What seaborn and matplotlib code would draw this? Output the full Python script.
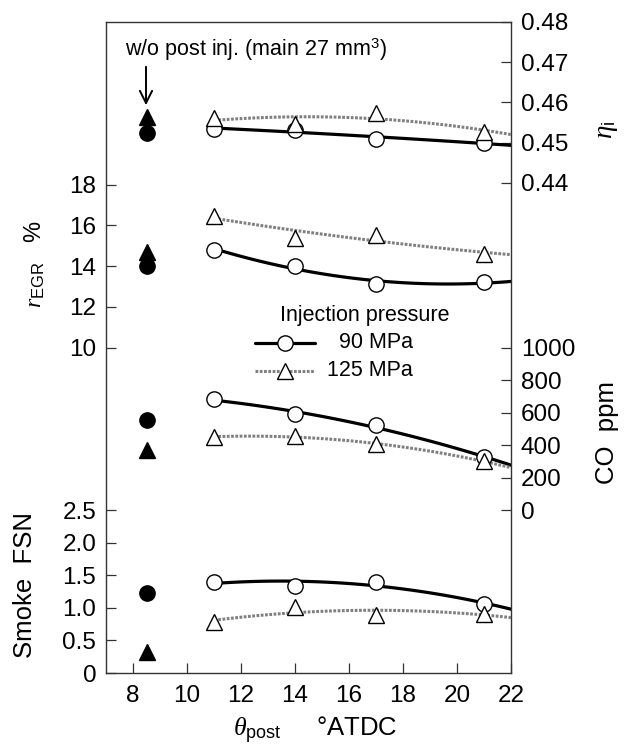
import numpy as np
import pandas as pd
import matplotlib
matplotlib.use("Agg")
import matplotlib.pyplot as plt
from matplotlib.lines import Line2D
import seaborn as sns

# post injection timing (deg ATDC)
theta = [11, 14, 17, 21]
theta_ref = 8.5  # without post injection

eta_90 = [0.4534, 0.4532, 0.4509, 0.4499]
eta_125 = [0.4561, 0.4547, 0.4574, 0.4527]
egr_90 = [14.80, 14.03, 13.14, 13.20]
egr_125 = [16.48, 15.40, 15.55, 14.60]
co_90 = [682, 590, 522, 326]
co_125 = [450, 455, 405, 301]
smoke_90 = [1.40, 1.34, 1.40, 1.06]
smoke_125 = [0.78, 1.01, 0.89, 0.91]

# w/o post injection (filled): circle, triangle
eta_ref = [0.4524, 0.4563]
egr_ref = [14.00, 14.69]
co_ref = [553, 368]
smoke_ref = [1.23, 0.32]

W, H = 630, 755


def px(x, y):
    return x / W, 1 - y / H


sns.set_theme(style="ticks")
plt.rcParams['font.family'] = ['Liberation Sans', 'DejaVu Sans']
plt.rcParams['mathtext.fontset'] = 'custom'
plt.rcParams['mathtext.rm'] = 'Liberation Sans'
plt.rcParams['mathtext.it'] = 'Liberation Serif:italic'
plt.rcParams['text.color'] = 'black'
plt.rcParams['xtick.labelcolor'] = 'black'
plt.rcParams['ytick.labelcolor'] = 'black'
TICK_FS = 17.5
FS = 15.5
LAB_FS = 18.5

fig = plt.figure(figsize=(6.3, 7.55), dpi=100)
x0, y0 = px(106, 673)
x1, y1 = px(511, 22)
ax = fig.add_axes([x0, y0, x1 - x0, y1 - y0])
ax_smoke = ax.twinx()
ax_eta = ax.twinx()
ax_co = ax.twinx()

limits = {ax: (-6, 26), ax_smoke: (0, 10), ax_eta: (0.318, 0.48), ax_co: (-1000, 3000)}
for a, lim in limits.items():
    a.set_ylim(*lim)
    a.set_xlim(7, 22)

black_line = dict(color='black', lw=2.3, ls='-')
grey_line = dict(color='#7f7f7f', lw=2.2, ls=(0, (0.9, 0.5)))
open_c = dict(marker='o', ms=11, mfc='white', mec='black', mew=1.0, ls='none')
open_t = dict(marker='^', ms=12, mfc='white', mec='black', mew=1.0, ls='none')
fill_c = dict(marker='o', ms=11, mfc='black', mec='black', ls='none')
fill_t = dict(marker='^', ms=12, mfc='black', mec='black', ls='none')

xs = np.linspace(11, 22, 100)
groups = [
    (ax_eta, eta_90, eta_125, eta_ref),
    (ax, egr_90, egr_125, egr_ref),
    (ax_co, co_90, co_125, co_ref),
    (ax_smoke, smoke_90, smoke_125, smoke_ref),
]
for a, v90, v125, vref in groups:
    for vals, lstyle, mstyle in [(v90, black_line, open_c), (v125, grey_line, open_t)]:
        fit = np.polyval(np.polyfit(theta, vals, 2), xs)
        sns.lineplot(x=xs, y=fit, ax=a, clip_on=True, **lstyle)
        a.plot(theta, vals, zorder=5, clip_on=False, **mstyle)
    a.plot([theta_ref], [vref[1]], zorder=5, **fill_t)
    a.plot([theta_ref], [vref[0]], zorder=5, **fill_c)

# ticks
ax.set_yticks([10, 12, 14, 16, 18])
ax_smoke.set_yticks([0, 0.5, 1.0, 1.5, 2.0, 2.5])
ax_smoke.set_yticklabels(['0', '0.5', '1.0', '1.5', '2.0', '2.5'])
ax_smoke.yaxis.tick_left()
ax_eta.set_yticks([0.44, 0.45, 0.46, 0.47, 0.48])
ax_co.set_yticks([0, 200, 400, 600, 800, 1000])
ax.set_xticks([8, 10, 12, 14, 16, 18, 20, 22])
for a in [ax, ax_smoke, ax_eta, ax_co]:
    a.tick_params(direction='in', length=7, width=0.9, labelsize=TICK_FS, pad=7, color='#333333')
    a.set_ylabel('')
    a.set_xlabel('')
ax.tick_params(axis='x', pad=9)
for a in [ax_smoke, ax_eta, ax_co]:
    for s in a.spines.values():
        s.set_visible(False)
for s in ax.spines.values():
    s.set_visible(True)
    s.set_linewidth(1.0)
    s.set_color('#333333')

# axis labels
fig.text(*px(35, 264), r'$r_{\rm EGR}$   %', rotation=90, fontsize=LAB_FS - 1.5, ha='center', va='center')
fig.text(*px(25, 585), 'Smoke  FSN', rotation=90, fontsize=LAB_FS, ha='center', va='center')
fig.text(*px(607, 130), r'$\eta_{\rm i}$', rotation=90, fontsize=LAB_FS + 1, ha='center', va='center')
fig.text(*px(607, 433), 'CO  ppm', rotation=90, fontsize=LAB_FS, ha='center', va='center')
fig.text(*px(315, 730), r'$\theta_{\rm post}$     °ATDC', fontsize=LAB_FS, ha='center', va='center')

# annotation for the no post-injection case
ax.text(*px(125, 50), r'w/o post inj. (main 27 mm$^3$)', transform=fig.transFigure,
        fontsize=FS, ha='left', va='center')
ax.annotate('', xy=px(146, 108), xytext=px(146, 64), xycoords='figure fraction',
            textcoords='figure fraction',
            arrowprops=dict(arrowstyle='->', lw=1.4, color='black', mutation_scale=22))

# legend drawn by hand
fig.text(*px(365, 316), 'Injection pressure', fontsize=FS, ha='center', va='center')
for yy, lstyle, mstyle, label in [(343, black_line, open_c, '90 MPa'),
                                  (371, grey_line, open_t, '125 MPa')]:
    fig.add_artist(Line2D([255 / W, 315 / W], [1 - yy / H] * 2, transform=fig.transFigure, **lstyle))
    fig.add_artist(Line2D([285 / W], [1 - yy / H], transform=fig.transFigure, **mstyle))
    fig.text(*px(413, yy), label, fontsize=FS, ha='right', va='center')

fig.savefig('out.png', dpi=100)
